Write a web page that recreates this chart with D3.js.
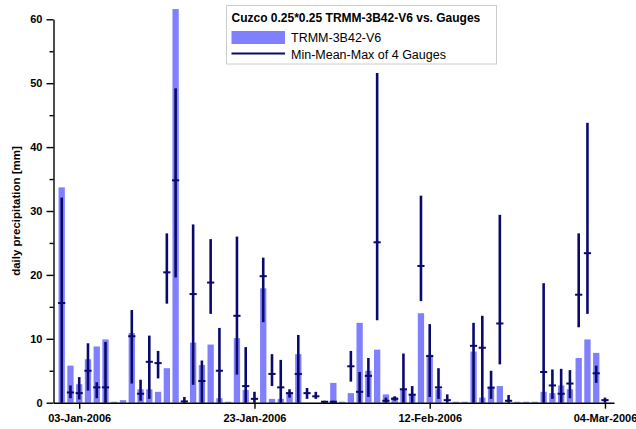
<!DOCTYPE html>
<html>
<head>
<meta charset="utf-8">
<script src="https://cdn.jsdelivr.net/npm/d3@7"></script>
<style>
  html, body { margin: 0; padding: 0; background: #fff; }
  svg { display: block; font-family: "Liberation Sans", Arial, sans-serif; }
</style>
</head>
<body>
<svg id="chart" width="636" height="429"></svg>
<script>
// ---- data ----
const startDate = new Date(2006, 0, 1);
const endDateExclusive = new Date(2006, 2, 5);
const dates = d3.timeDay.range(startDate, endDateExclusive); // 01-Jan-2006 .. 04-Mar-2006

const trmm = [33.7, 5.8, 2.9, 6.8, 8.8, 9.9, 0.15, 0.4, 10.9, 2.1,
  2.1, 1.7, 5.4, 61.6, 0, 9.4, 5.9, 9.1, 0.7, 0.15,
  10.1, 2.0, 0, 17.9, 0.6, 0.6, 1.4, 7.6, 0, 0,
  0, 3.1, 0.15, 1.5, 12.5, 5.0, 8.3, 1.3, 0.9, 2.1,
  1.3, 14.0, 7.5, 2.1, 0, 0.15, 0.15, 8.0, 0.8, 2.5,
  2.6, 0, 0.15, 0.15, 0.15, 1.7, 1.5, 2.7, 2.1, 7.0,
  9.9, 7.8, 0];

const gaugeMax = [32.1, 2.7, 4.0, 9.3, 3.2, 9.5, null, null, 14.5, 3.6,
  10.5, 8.1, 26.5, 49.2, 0.9, 27.9, 6.6, 25.6, 11.7, null,
  26.0, 8.7, 1.7, 22.7, 7.6, 6.7, 2.1, 10.6, 2.3, 1.7,
  0.3, 0.3, null, 8.1, 4.8, 7.0, 51.6, 0.8, 1.0, 7.7,
  2.6, 32.4, 12.3, 5.4, 1.3, null, null, 12.5, 13.6, 5.0,
  29.4, 1.2, null, null, null, 18.7, 5.2, 5.3, 5.1, 26.5,
  43.8, 5.8, 0.8];

const gaugeMean = [15.6, 1.6, 1.5, 5.0, 2.4, 2.4, null, null, 10.4, 1.4,
  6.4, 6.2, 20.4, 34.8, 0.2, 17.0, 3.4, 18.8, 5.0, null,
  13.6, 2.6, 0.6, 19.8, 4.5, 2.4, 1.5, 4.5, 1.5, 1.0,
  0.15, 0.15, null, 5.7, 1.7, 4.2, 25.1, 0.3, 0.6, 2.1,
  1.25, 21.4, 7.3, 2.4, 0.4, null, null, 8.9, 8.6, 2.35,
  12.4, 0.3, null, null, null, 4.8, 2.7, 1.4, 3.0, 16.9,
  23.4, 4.6, 0.4];

const gaugeMin = [0, 0.7, 0.5, 1.9, 0.7, 0, null, null, 3.0, 0.3,
  0.6, 3.8, 15.5, 19.6, 0, 2.8, 0, 13.9, 0, null,
  4.4, 0, 0, 12.6, 2.6, 0, 0.8, 0, 0.6, 0.6,
  0, 0, null, 3.3, 0, 0.9, 12.9, 0, 0.3, 0,
  0, 15.9, 0.9, 0.6, 0, null, null, 0, 0, 0.6,
  6.0, 0, null, null, null, 0, 0.6, 0, 0.7, 11.8,
  13.9, 3.1, 0];

const yMajorTicks = [0, 10, 20, 30, 40, 50, 60];
const yMinorTicks = [5, 15, 25, 35, 45, 55];
const xTickDates = [new Date(2006, 0, 3), new Date(2006, 0, 23), new Date(2006, 1, 12), new Date(2006, 2, 4)];

const titleText = "Cuzco 0.25*0.25 TRMM-3B42-V6 vs. Gauges";
const legendBarText = "TRMM-3B42-V6";
const legendLineText = "Min-Mean-Max of 4 Gauges";
const yTitle = "daily precipitation [mm]";

// ---- styles ----
const barColor = "#8080ff";
const errColor = "#0a0a6e";

// ---- scales ----
const DAY = 864e5;
const svg = d3.select("#chart");
const x = d3.scaleTime()
  .domain([new Date(+dates[0] - 0.935 * DAY), new Date(+dates[dates.length - 1] + 1.03 * DAY)])
  .range([53.5, 614]);
const y = d3.scaleLinear().domain([0, 60]).range([402.7, 19.3]);
const dayW = x(dates[1]) - x(dates[0]);
const barW = dayW * 0.72;

const rows = dates.map((d, i) => ({ d, v: trmm[i], mn: gaugeMin[i], me: gaugeMean[i], mx: gaugeMax[i] }));

// bars
svg.append("g").selectAll("rect").data(rows).join("rect")
  .attr("x", r => x(r.d) - barW / 2)
  .attr("width", barW)
  .attr("y", r => y(r.v))
  .attr("height", r => y(0) - y(r.v))
  .attr("fill", barColor);

// error bars
const eb = svg.append("g").selectAll("g").data(rows.filter(r => r.mx !== null)).join("g");
eb.append("line")
  .attr("x1", r => x(r.d)).attr("x2", r => x(r.d))
  .attr("y1", r => y(r.mn)).attr("y2", r => y(r.mx))
  .attr("stroke", errColor).attr("stroke-width", 2.6);
eb.append("line")
  .attr("x1", r => x(r.d) - 3.6).attr("x2", r => x(r.d) + 3.6)
  .attr("y1", r => y(r.me)).attr("y2", r => y(r.me))
  .attr("stroke", errColor).attr("stroke-width", 2);

// axes
const axisFont = "bold 11px 'Liberation Sans', Arial, sans-serif";
const gy = svg.append("g").attr("transform", "translate(53.5,0)")
  .call(d3.axisLeft(y).tickValues(yMajorTicks).tickSize(7).tickSizeOuter(0).tickPadding(4).tickFormat(d3.format("d")));
svg.append("g").attr("transform", "translate(53.5,0)")
  .call(d3.axisLeft(y).tickValues(yMinorTicks).tickSize(4).tickSizeOuter(0).tickFormat(""))
  .select(".domain").remove();
const gx = svg.append("g").attr("transform", "translate(0,402.7)")
  .call(d3.axisBottom(x).tickValues(xTickDates).tickSize(6).tickSizeOuter(0).tickPadding(6)
    .tickFormat(d3.timeFormat("%d-%b-%Y")));
svg.selectAll(".tick line, .domain").attr("stroke", "#000").attr("stroke-width", 1.4);
svg.selectAll(".tick text").style("font", axisFont).attr("fill", "#000");

// y title
svg.append("text")
  .attr("transform", "translate(20,211) rotate(-90)")
  .attr("text-anchor", "middle")
  .style("font", "bold 11.5px 'Liberation Sans', Arial, sans-serif")
  .text(yTitle);

// legend
const lg = svg.append("g");
lg.append("rect").attr("x", 226.5).attr("y", 5.5).attr("width", 270).attr("height", 58.5)
  .attr("fill", "#fff").attr("stroke", "#cccccc").attr("stroke-width", 1);
lg.append("text").attr("x", 231.5).attr("y", 22)
  .style("font", "bold 12px 'Liberation Sans', Arial, sans-serif").text(titleText);
lg.append("rect").attr("x", 231.5).attr("y", 31).attr("width", 53.5).attr("height", 13).attr("fill", barColor);
lg.append("text").attr("x", 291).attr("y", 42)
  .style("font", "12.5px 'Liberation Sans', Arial, sans-serif").text(legendBarText);
lg.append("line").attr("x1", 231.5).attr("x2", 285).attr("y1", 53.5).attr("y2", 53.5)
  .attr("stroke", errColor).attr("stroke-width", 2);
lg.append("text").attr("x", 291).attr("y", 58.5)
  .style("font", "12.5px 'Liberation Sans', Arial, sans-serif").text(legendLineText);
</script>
</body>
</html>
